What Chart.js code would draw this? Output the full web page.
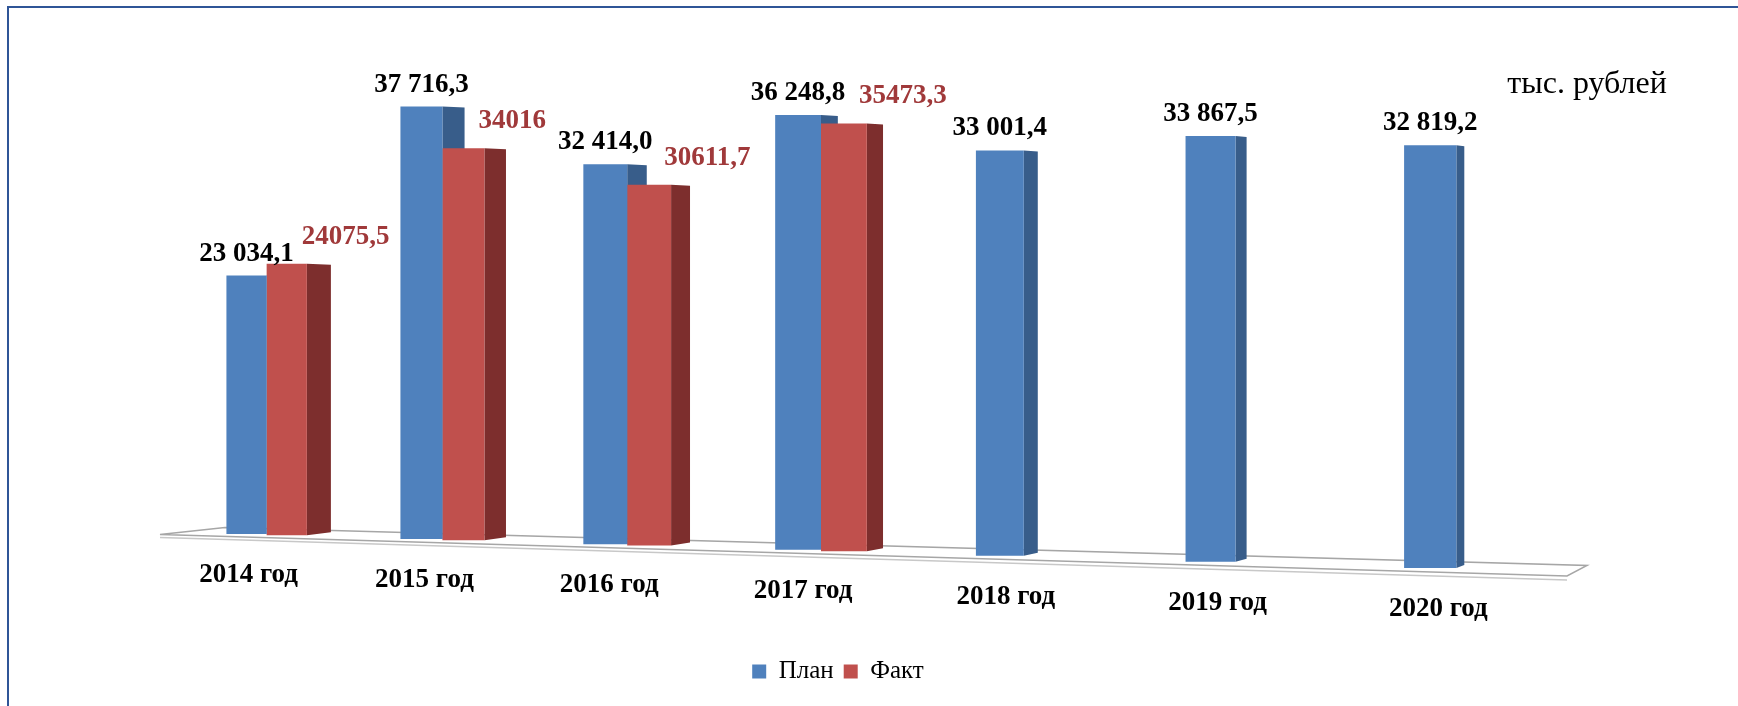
<!DOCTYPE html>
<html>
<head>
<meta charset="utf-8">
<script src="https://cdn.jsdelivr.net/npm/chart.js@4.4.0/dist/chart.umd.min.js"></script>
<style>
  html, body { margin: 0; padding: 0; background: #fff; }
</style>
</head>
<body>
<canvas id="budgetChart" width="1738" height="706"></canvas>
<script>
// data
const years = ['2014 год', '2015 год', '2016 год', '2017 год', '2018 год', '2019 год', '2020 год'];
const planValues = [23034.1, 37716.3, 32414.0, 36248.8, 33001.4, 33867.5, 32819.2];
const factValues = [24075.5, 34016, 30611.7, 35473.3, null, null, null];
const unitLabel = 'тыс. рублей';

const planColor = '#4F81BD', planSide = '#385D8A';
const factColor = '#C0504D', factSide = '#7D2E2D';
const factTextColor = '#A0393A';
const serif = "'Liberation Serif', 'Times New Roman', serif";

// "3D" look: a slanted floor, bars growing a bit towards the viewer (right)
function persp(chart) {
    const a = chart.chartArea, xs = chart.scales.x;
    const cx = (a.left + a.right) / 2;
    const step = xs.getPixelForValue(1) - xs.getPixelForValue(0);
    return {
        area: a,
        shiftX: gx => { const t = (gx - cx) / step; return gx + 4.5 * t * t - 17; },
        widthF: x => 1 + 0.00022 * (x - cx),
        heightF: x => 1 + 1.164e-4 * (x - cx),
        baseY: x => a.bottom + 0.0287 * (x - cx),
        depth: x => 16.6 - 0.014 * (x - cx)
    };
}

function fmtPlan(v) {
    const [i, d] = v.toFixed(1).split('.');
    return i.replace(/\B(?=(\d{3})+(?!\d))/g, ' ') + ',' + d;
}
function fmtFact(v) {
    return String(v).replace('.', ',');
}

const perspectivePlugin = {
    id: 'perspective',
    afterDatasetsUpdate(chart) {
        const p = persp(chart);
        const xs = chart.scales.x;
        chart.data.datasets.forEach((ds, di) => {
            chart.getDatasetMeta(di).data.forEach((bar, i) => {
                if (ds.data[i] == null) return;
                const gx = xs.getPixelForValue(i);
                const gx2 = p.shiftX(gx);
                const wf = p.widthF(gx2);
                const nx = gx2 + (bar.x - gx) * wf;
                const h = (bar.base - bar.y) * p.heightF(nx);
                const by = p.baseY(nx);
                bar.x = nx;
                bar.width = bar.width * wf;
                bar.base = by;
                bar.y = by - h;
            });
        });
    },
    beforeDraw(chart) {
        const ctx = chart.ctx;
        ctx.save();
        ctx.strokeStyle = '#2F5597';
        ctx.lineWidth = 2;
        ctx.strokeRect(8, 7, 2000, 1000);
        ctx.restore();
    },
    beforeDatasetsDraw(chart) {
        const ctx = chart.ctx;
        const p = persp(chart);
        const a = p.area;
        // floor
        const lf = a.left + 16, lb = a.left + 81, rf = a.right + 35, rb = a.right + 55;
        ctx.save();
        ctx.strokeStyle = '#A6A6A6';
        ctx.lineWidth = 1.5;
        ctx.beginPath();
        ctx.moveTo(lf, p.baseY(lf) + 3);
        ctx.lineTo(lb, p.baseY(lb) - 6);
        ctx.lineTo(rb, p.baseY(rb) - 7);
        ctx.lineTo(rf, p.baseY(rf) + 4);
        ctx.closePath();
        ctx.stroke();
        ctx.strokeStyle = '#C8C8C8';
        ctx.beginPath();
        ctx.moveTo(lf, p.baseY(lf) + 6);
        ctx.lineTo(rf, p.baseY(rf) + 8);
        ctx.stroke();
        // side faces, drawn before the fronts so the fact bar hides the plan side
        chart.data.datasets.forEach((ds, di) => {
            ctx.fillStyle = di === 0 ? planSide : factSide;
            chart.getDatasetMeta(di).data.forEach((bar, i) => {
                if (ds.data[i] == null) return;
                const r = bar.x + bar.width / 2;
                const d = p.depth(r);
                ctx.beginPath();
                ctx.moveTo(r, bar.y);
                ctx.lineTo(r + d, bar.y + 1);
                ctx.lineTo(r + d, bar.base - 3);
                ctx.lineTo(r, bar.base);
                ctx.closePath();
                ctx.fill();
            });
        });
        ctx.restore();
    },
    afterDatasetsDraw(chart) {
        const ctx = chart.ctx;
        const p = persp(chart);
        const xs = chart.scales.x;
        ctx.save();
        ctx.font = 'bold 27px ' + serif;
        ctx.textBaseline = 'alphabetic';
        // value labels
        const plan = chart.getDatasetMeta(0).data;
        const fact = chart.getDatasetMeta(1).data;
        ctx.fillStyle = '#000';
        ctx.textAlign = 'center';
        plan.forEach((bar, i) => {
            ctx.fillText(fmtPlan(planValues[i]), bar.x, bar.y - 15);
        });
        ctx.fillStyle = factTextColor;
        ctx.textAlign = 'left';
        fact.forEach((bar, i) => {
            if (factValues[i] == null) return;
            ctx.fillText(fmtFact(factValues[i]), bar.x + 15, bar.y - 20);
        });
        // category labels under the slanted floor
        ctx.fillStyle = '#000';
        ctx.textAlign = 'center';
        years.forEach((y, i) => {
            const x = p.shiftX(xs.getPixelForValue(i)) - 18;
            ctx.fillText(y, x, p.baseY(x) + 48);
        });
        // unit caption
        ctx.font = '32px ' + serif;
        ctx.fillText(unitLabel, p.area.right + 55, 93);
        ctx.restore();
    }
};

const ctx = document.getElementById('budgetChart').getContext('2d');
const budgetChart = new Chart(ctx, {
    type: 'bar',
    data: {
        labels: years,
        datasets: [{
            label: 'План',
            data: planValues,
            backgroundColor: planColor,
            borderWidth: 0,
            clip: false
        },
        {
            label: 'Факт',
            data: factValues,
            backgroundColor: factColor,
            borderWidth: 0,
            clip: false
        }]
    },
    options: {
        responsive: false,
        animation: false,
        events: [],
        layout: {
            padding: { left: 144, right: 206, top: 69, bottom: 12 }
        },
        categoryPercentage: 0.464,
        barPercentage: 1,
        scales: {
            x: {
                grid: { display: false },
                border: { display: false },
                ticks: { display: false },
                afterFit(scale) { scale.height = 98; }
            },
            y: {
                display: false,
                min: 0,
                max: 40000
            }
        },
        plugins: {
            legend: {
                position: 'bottom',
                labels: {
                    boxWidth: 14,
                    boxHeight: 14,
                    padding: 10,
                    color: '#000',
                    font: { family: serif, size: 25 }
                }
            },
            tooltip: { enabled: false }
        }
    },
    plugins: [perspectivePlugin]
});
</script>
</body>
</html>
